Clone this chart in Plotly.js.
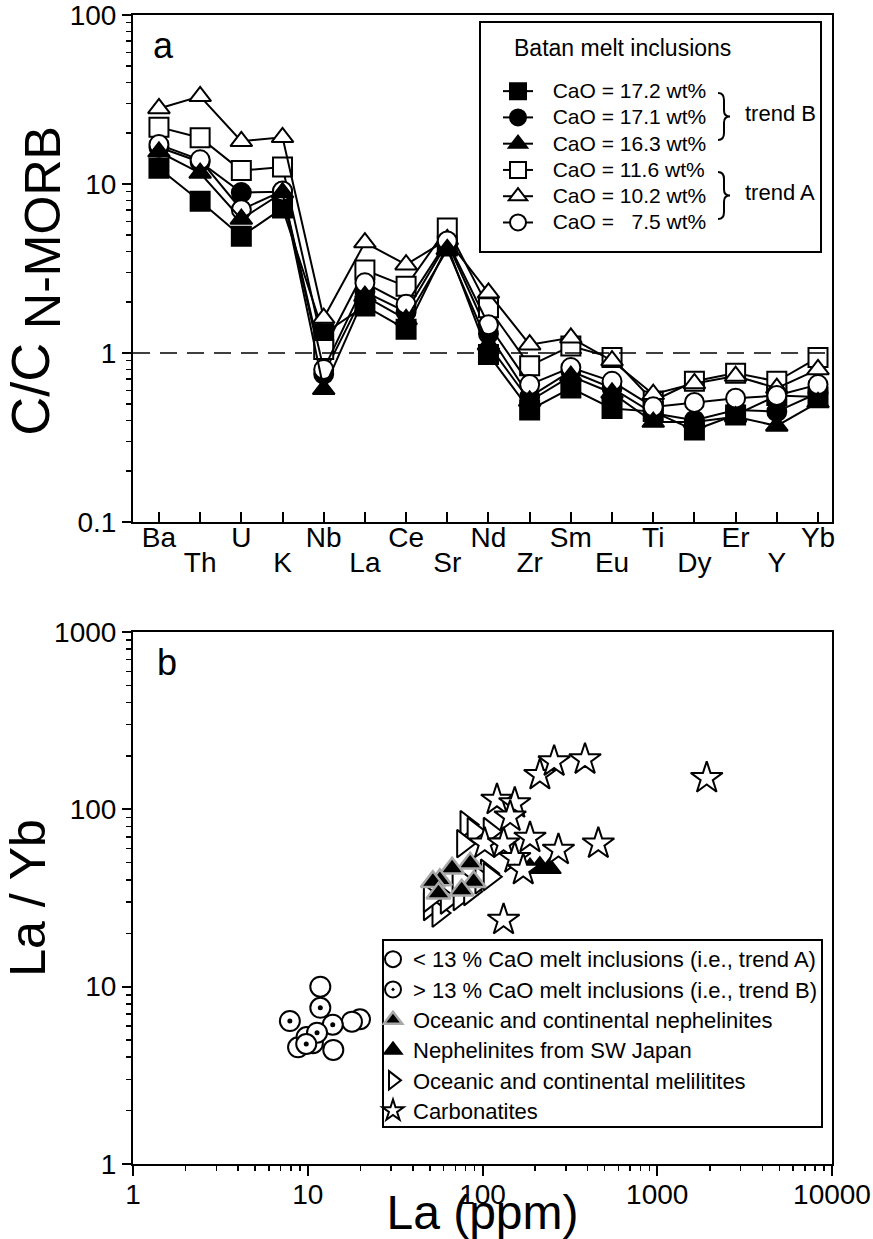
<!DOCTYPE html>
<html><head><meta charset="utf-8">
<script src="https://cdn.plot.ly/plotly-3.0.1.min.js"></script>
<style>html,body{margin:0;padding:0;background:#fff}</style>
</head><body><div id="chart" style="width:873px;height:1239px"></div>
<script>
// ---------- Panel a data (C / C N-MORB) ----------
const elements = ['Ba','Th','U','K','Nb','La','Ce','Sr','Nd','Zr','Sm','Eu','Ti','Dy','Er','Y','Yb'];
const lowLabel = [false,true,false,true,false,true,false,true,false,true,false,true,false,true,false,true,false];
const cao172 = [12.4, 7.9, 4.9, 7.2, 1.30, 1.90, 1.38, 4.3, 0.98, 0.46, 0.62, 0.47, 0.45, 0.35, 0.43, 0.56, 0.55];
const cao171 = [16.5, 13.5, 8.9, 9.0, 0.75, 2.30, 1.75, 4.5, 1.30, 0.55, 0.78, 0.62, 0.44, 0.40, 0.46, 0.45, 0.58];
const cao163 = [15.5, 11.6, 6.2, 8.9, 0.61, 2.17, 1.58, 4.1, 1.12, 0.52, 0.73, 0.58, 0.39, 0.39, 0.42, 0.37, 0.51];
const cao116 = [21.7, 18.8, 12.0, 12.6, 1.05, 3.10, 2.48, 5.5, 1.85, 0.84, 1.10, 0.94, 0.52, 0.68, 0.76, 0.68, 0.94];
const cao102 = [28.0, 33.0, 17.9, 18.9, 1.61, 4.50, 3.33, 4.7, 2.27, 1.12, 1.23, 0.90, 0.57, 0.66, 0.73, 0.62, 0.80];
const cao75  = [17.1, 13.9, 7.05, 9.1, 0.80, 2.60, 1.94, 4.6, 1.47, 0.65, 0.82, 0.68, 0.48, 0.51, 0.54, 0.56, 0.65];

// ---------- Panel b data (La vs La/Yb) ----------
const trendA_La   = [11.8, 19.9, 17.9, 14.0, 8.8, 9.85, 10.7];
const trendA_LaYb = [10.0, 6.55, 6.35, 4.4, 4.55, 5.2, 4.8];
const trendB_La   = [11.8, 7.9, 13.9, 11.3, 9.8];
const trendB_LaYb = [7.6, 6.4, 6.1, 5.5, 4.75];
const neph_La     = [85, 67, 57, 52, 89, 56, 76];
const neph_LaYb   = [49.7, 46.5, 40, 39, 39, 33.6, 35];
const japan_La    = [187, 213, 242];
const japan_LaYb  = [46.5, 47.5, 46.5];
const melil_La    = [81, 89, 77.5, 110, 106, 50, 56, 62.5, 74, 85, 98.6, 110, 50, 73];
const melil_LaYb  = [82, 75, 64, 75, 43.6, 28.3, 26, 30.8, 32.2, 34.4, 40, 41.7, 31.5, 40.8];
const carb_La     = [213, 257, 386, 1919, 121, 153, 144, 187, 272, 460, 103, 132, 153, 171, 132];
const carb_LaYb   = [156, 186, 191, 150, 113, 108, 91, 69, 59, 64, 64, 64, 53, 45.5, 23.8];

// ---------- geometry helpers (pixel -> paper) ----------
const W = 873, H = 1239, ML = 133, MR = 41, MT = 15, MB = 75;
const PW = W - ML - MR, PH = H - MT - MB;
const xp = px => (px - ML) / PW;
const yp = py => (H - MB - py) / PH;
const FONT = 'Liberation Sans, Arial, Helvetica, sans-serif';

function brace(px0, pyTop, pyBot) {
  const ym = (pyTop + pyBot) / 2, a = px0, b = px0 + 6, c = px0 + 12;
  const P = (x, y) => xp(x).toFixed(5) + ',' + yp(y).toFixed(5);
  return 'M' + P(a, pyTop) + ' Q' + P(b, pyTop) + ' ' + P(b, pyTop + 7) +
         ' L' + P(b, ym - 6) + ' Q' + P(b, ym) + ' ' + P(c, ym) +
         ' Q' + P(b, ym) + ' ' + P(b, ym + 6) +
         ' L' + P(b, pyBot - 7) + ' Q' + P(b, pyBot) + ' ' + P(a, pyBot);
}

const big = (t, s) => '<span style="font-size:' + s + 'px">' + t + '</span>';
const elementLabels = elements.map((e, i) => (lowLabel[i] ? '<br>' : '') + big(e, 28));
const lbl = t => big('\u2002\u2009' + t, 21);
const lbl2 = t => big(t, 22);

function seriesA(y, name, symbol, fill, rank) {
  return {x: elements, y: y, name: lbl(name), type: 'scatter', mode: 'lines+markers',
    xaxis: 'x', yaxis: 'y', legend: 'legend', legendrank: rank,
    line: {color: 'black', width: 2},
    marker: {symbol: symbol, size: 19, color: fill, line: {color: 'black', width: 2}}};
}

const traces = [
  seriesA(cao172, 'CaO = 17.2 wt%', 'square', 'black', 1),
  seriesA(cao171, 'CaO = 17.1 wt%', 'circle', 'black', 2),
  seriesA(cao116, 'CaO = 11.6 wt%', 'square', 'white', 4),
  seriesA(cao102, 'CaO = 10.2 wt%', 'triangle-up', 'white', 5),
  seriesA(cao75,  'CaO = \u20077.5 wt%', 'circle', 'white', 6),
  seriesA(cao163, 'CaO = 16.3 wt%', 'triangle-up', 'black', 3),

  {x: melil_La, y: melil_LaYb, name: lbl2('Oceanic and continental melilitites'), type: 'scatter', mode: 'markers',
   xaxis: 'x2', yaxis: 'y2', legend: 'legend2', legendrank: 5,
   marker: {symbol: 'triangle-right', size: 24, color: 'white', line: {color: 'black', width: 2}}},
  {x: neph_La, y: neph_LaYb, name: lbl2('Oceanic and continental nephelinites'), type: 'scatter', mode: 'markers',
   xaxis: 'x2', yaxis: 'y2', legend: 'legend2', legendrank: 3,
   marker: {symbol: 'triangle-up', size: 21, color: 'black', line: {color: '#a8a8a8', width: 2.5}}},
  {x: japan_La, y: japan_LaYb, name: lbl2('Nephelinites from SW Japan'), type: 'scatter', mode: 'markers',
   xaxis: 'x2', yaxis: 'y2', legend: 'legend2', legendrank: 4,
   marker: {symbol: 'triangle-up', size: 20, color: 'black', line: {color: 'black', width: 1.5}}},
  {x: carb_La, y: carb_LaYb, name: lbl2('Carbonatites'), type: 'scatter', mode: 'markers',
   xaxis: 'x2', yaxis: 'y2', legend: 'legend2', legendrank: 6,
   marker: {symbol: 'star', size: 24, color: 'white', line: {color: 'black', width: 2}}},
  {x: trendA_La, y: trendA_LaYb, name: lbl2('< 13 % CaO melt inclusions (i.e., trend A)'), type: 'scatter', mode: 'markers',
   xaxis: 'x2', yaxis: 'y2', legend: 'legend2', legendrank: 1,
   marker: {symbol: 'circle', size: 20, color: 'white', line: {color: 'black', width: 2}}},
  {x: trendB_La, y: trendB_LaYb, name: lbl2('> 13 % CaO melt inclusions (i.e., trend B)'), type: 'scatter', mode: 'markers',
   xaxis: 'x2', yaxis: 'y2', legend: 'legend2', legendrank: 2,
   marker: {symbol: 'circle-dot', size: 20, color: 'white', line: {color: 'black', width: 2}}},
  {x: trendB_La, y: trendB_LaYb, type: 'scatter', mode: 'markers', showlegend: false, hoverinfo: 'skip',
   xaxis: 'x2', yaxis: 'y2', marker: {symbol: 'circle', size: 5, color: 'black'}}
];

const axBase = {showline: true, linewidth: 2, linecolor: 'black', mirror: true, showgrid: false, zeroline: false,
  tickcolor: 'black', tickwidth: 2, ticklabeloverflow: 'allow',
  tickfont: {family: FONT, size: 28, color: 'black'}};
const logMinor = {ticks: 'outside', ticklen: 5, tickwidth: 1.5, tickcolor: 'black', dtick: 'D1', showgrid: false};

const ann = (text, px, py, size, xa) => ({text: text, xref: 'paper', yref: 'paper', x: xp(px), y: yp(py),
  xanchor: xa || 'center', yanchor: 'middle', showarrow: false, font: {family: FONT, size: size, color: 'black'}});

const layout = {
  width: W, height: H, margin: {l: ML, r: MR, t: MT, b: MB},
  paper_bgcolor: 'white', plot_bgcolor: 'white',
  font: {family: FONT, color: 'black'},
  xaxis: Object.assign({}, axBase, {type: 'category', anchor: 'y', domain: [0, 1],
    categoryorder: 'array', categoryarray: elements, range: [-0.63, 16.34],
    tickmode: 'array', tickvals: elements, ticktext: elementLabels,
    tickfont: {family: FONT, size: 19, color: 'black'},
    ticks: 'inside', ticklen: 10}),
  yaxis: Object.assign({}, axBase, {type: 'log', anchor: 'x', domain: [yp(522), 1], range: [-1, 2],
    tickmode: 'linear', tick0: 0, dtick: 1, exponentformat: 'none',
    ticks: 'outside', ticklen: 9, minor: logMinor,
    title: {text: 'C/C<sub><span style="font-size:50px"> N-MORB\u2002</span></sub>', font: {family: FONT, size: 54}, standoff: 12}}),
  xaxis2: Object.assign({}, axBase, {type: 'log', anchor: 'y2', domain: [0, 1], range: [0, 4],
    tickmode: 'linear', tick0: 0, dtick: 1, tickformat: 'd', ticklabelstandoff: -6,
    ticks: 'outside', ticklen: 10, minor: logMinor,
    title: {text: 'La (ppm)', font: {family: FONT, size: 48}, standoff: 5}}),
  yaxis2: Object.assign({}, axBase, {type: 'log', anchor: 'x2', domain: [0, yp(632)], range: [0, 3],
    tickmode: 'linear', tick0: 0, dtick: 1, tickformat: 'd',
    ticks: 'outside', ticklen: 9, minor: logMinor,
    title: {text: 'La / Yb', font: {family: FONT, size: 50}, standoff: 8}}),
  showlegend: true,
  legend: {x: xp(498), y: yp(73), xanchor: 'left', yanchor: 'top', bgcolor: 'rgba(0,0,0,0)', borderwidth: 0,
    font: {family: FONT, size: 17.9, color: 'black'}, traceorder: 'normal'},
  legend2: {x: xp(373), y: yp(939), xanchor: 'left', yanchor: 'top', bgcolor: 'rgba(0,0,0,0)', borderwidth: 0,
    font: {family: FONT, size: 21, color: 'black'}, traceorder: 'normal'},
  shapes: [
    {type: 'line', xref: 'x domain', yref: 'y', x0: 0, x1: 1, y0: 1, y1: 1,
     line: {color: 'black', width: 1.5, dash: '17px,10px'}},
    {type: 'rect', xref: 'paper', yref: 'paper', x0: xp(480), x1: xp(821), y0: yp(252), y1: yp(22),
     line: {color: 'black', width: 2}},
    {type: 'rect', xref: 'paper', yref: 'paper', x0: xp(383), x1: xp(822), y0: yp(1127), y1: yp(940),
     line: {color: 'black', width: 2}},
    {type: 'path', xref: 'paper', yref: 'paper', path: brace(718, 93, 140), line: {color: 'black', width: 2}},
    {type: 'path', xref: 'paper', yref: 'paper', path: brace(718, 172, 219), line: {color: 'black', width: 2}}
  ],
  annotations: [
    ann('Batan melt inclusions', 512, 48, 23, 'left'),
    ann('a', 163, 45, 36),
    ann('b', 167, 663, 36),
    ann('trend B', 743, 114, 22, 'left'),
    ann('trend A', 743, 192, 22, 'left')
  ]
};

Plotly.newPlot('chart', traces, layout, {staticPlot: true, displayModeBar: false});
</script>
</body></html>
